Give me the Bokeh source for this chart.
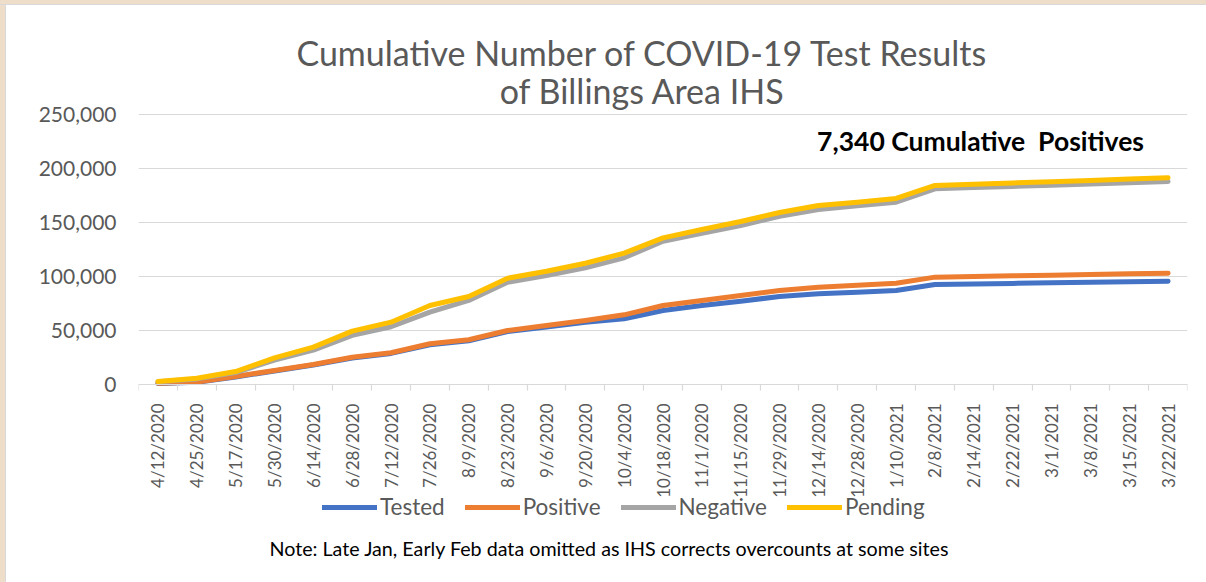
import math
from bokeh.plotting import figure
from bokeh.layouts import column, row
from bokeh.models import (Div, FixedTicker, Label, Legend, LegendItem, NumeralTickFormatter,
                          Range1d)
from bokeh.embed import file_html
from bokeh.resources import INLINE

dates = ["4/12/2020", "4/25/2020", "5/17/2020", "5/30/2020", "6/14/2020", "6/28/2020",
         "7/12/2020", "7/26/2020", "8/9/2020", "8/23/2020", "9/6/2020", "9/20/2020",
         "10/4/2020", "10/18/2020", "11/1/2020", "11/15/2020", "11/29/2020", "12/14/2020",
         "12/28/2020", "1/10/2021", "2/8/2021", "2/14/2021", "2/22/2021", "3/1/2021",
         "3/8/2021", "3/15/2021", "3/22/2021"]

tested = [1000, 2000, 7000, 12500, 18000, 24500, 28800, 36800, 40500, 49000, 53300, 57700,
          60800, 68500, 73100, 77100, 81500, 84000, 85500, 87000, 92600, 93100, 93600,
          94100, 94700, 95200, 95700]
positive = [1200, 2300, 7400, 13000, 18500, 25300, 29400, 37700, 41400, 50000, 54600, 59300,
            64500, 73100, 77800, 82400, 87000, 90100, 92000, 93800, 99400, 100000, 100600,
            101200, 101900, 102500, 103100]
negative = [2600, 5200, 11000, 22500, 31800, 45500, 53500, 67000, 77800, 94700, 101000, 108000,
            117300, 132700, 140100, 147200, 155800, 162000, 165400, 168800, 181200, 182300,
            183400, 184500, 185700, 186900, 188000]
pending = [2800, 5800, 12000, 24700, 34600, 49400, 57700, 73100, 81500, 98400, 104900, 112300,
           121600, 135800, 143500, 150900, 159300, 165700, 168800, 172300, 184300, 185500,
           186600, 187700, 189000, 190200, 191400]

series_names = ["Tested", "Positive", "Negative", "Pending"]
series_values = [tested, positive, negative, pending]
series_colors = ["#4472C4", "#ED7D31", "#A5A5A5", "#FFC000"]

y_ticks = [0, 50000, 100000, 150000, 200000, 250000]

title_1 = "Cumulative Number of COVID-19 Test Results"
title_2 = "of Billings Area IHS"
note_text = "7,340 Cumulative\u00a0 Positives"
footnote = "Note: Late Jan, Early Feb data omitted as IHS corrects overcounts at some sites"

FONT = "Lato"
GREY = "#595959"
FRAME_BEIGE = "#EEDDC9"
FRAME_LINE = "#D9D9D9"

# page pieces: thin beige frame at the top and left, then the chart
TOP_BAND, LEFT_BAND = 5, 6
W, H = 1206 - LEFT_BAND, 582 - TOP_BAND

# the frame spans the full height; value axis 0..250,000 occupies 270 px
PLOT_TOP, PLOT_BOTTOM = 114 - TOP_BAND, 384 - TOP_BAND
per_px = 250000 / (PLOT_BOTTOM - PLOT_TOP)
y_lo = -(H - PLOT_BOTTOM) * per_px
y_hi = 250000 + PLOT_TOP * per_px

xs = list(range(len(dates)))

p = figure(width=W, height=H, output_backend="svg", toolbar_location=None,
           x_range=Range1d(-0.5, len(dates) - 0.5), y_range=Range1d(y_lo, y_hi),
           min_border_left=138 - LEFT_BAND, min_border_right=19, min_border_top=0,
           min_border_bottom=0)
p.outline_line_color = None
p.background_fill_color = "white"
p.border_fill_color = "white"

# grid
p.xgrid.grid_line_color = None
p.ygrid.grid_line_color = "#D9D9D9"
p.ygrid.grid_line_width = 1.2

# y axis
p.yaxis.ticker = FixedTicker(ticks=y_ticks)
p.yaxis.formatter = NumeralTickFormatter(format="0,0")
p.yaxis.axis_line_color = None
p.yaxis.major_tick_line_color = None
p.yaxis.minor_tick_line_color = None
p.yaxis.major_label_standoff = 16
p.yaxis.major_label_text_font = FONT
p.yaxis.major_label_text_font_size = "21px"
p.yaxis.major_label_text_color = GREY

# x axis, pinned at value 0
p.xaxis.fixed_location = 0
p.xaxis.ticker = FixedTicker(ticks=xs, minor_ticks=[i - 0.5 for i in range(len(dates) + 1)])
p.xaxis.major_label_overrides = {i: d for i, d in enumerate(dates)}
p.xaxis.major_label_orientation = math.pi / 2
p.xaxis.axis_line_color = "#D9D9D9"
p.xaxis.axis_line_width = 1.2
p.xaxis.major_tick_line_color = None
p.xaxis.minor_tick_line_color = "#D9D9D9"
p.xaxis.minor_tick_line_width = 1.2
p.xaxis.minor_tick_in = 0
p.xaxis.minor_tick_out = 6
p.xaxis.major_label_standoff = 13
p.xaxis.major_label_text_font = FONT
p.xaxis.major_label_text_font_size = "17px"
p.xaxis.major_label_text_color = GREY

items = []
for name, vals, col in zip(series_names, series_values, series_colors):
    r = p.line(xs, vals, line_color=col, line_width=5, line_join="round", line_cap="round")
    items.append(LegendItem(label=name, renderers=[r]))

legend = Legend(items=items, orientation="horizontal", location=(184, 62),
                glyph_width=55, glyph_height=20, label_standoff=3, spacing=20,
                padding=0, margin=0, border_line_color=None, background_fill_alpha=0,
                label_text_font=FONT, label_text_color=GREY, label_text_font_size="22.5px")
p.add_layout(legend)

# text positions in px from the frame's bottom-left corner (bottom of the page)
p.add_layout(Label(x=504, y=582 - 52, x_units="screen", y_units="screen", text=title_1,
                   text_align="center", text_baseline="middle", text_font=FONT,
                   text_font_size="34px", text_color=GREY))
p.add_layout(Label(x=504, y=582 - 90, x_units="screen", y_units="screen", text=title_2,
                   text_align="center", text_baseline="middle", text_font=FONT,
                   text_font_size="34px", text_color=GREY))
p.add_layout(Label(x=842, y=582 - 140, x_units="screen", y_units="screen", text=note_text,
                   text_align="center", text_baseline="middle", text_font=FONT,
                   text_font_size="26.5px", text_font_style="bold", text_color="black"))
p.add_layout(Label(x=471, y=582 - 548, x_units="screen", y_units="screen", text=footnote,
                   text_align="center", text_baseline="middle", text_font=FONT,
                   text_font_size="19.7px", text_color="black"))

top_band = Div(width=1206, height=TOP_BAND, margin=0,
               styles={"background": f"linear-gradient(to bottom, {FRAME_BEIGE} 4px, {FRAME_LINE} 4px)"})
left_band = Div(width=LEFT_BAND, height=H, margin=0,
                styles={"background": f"linear-gradient(to right, {FRAME_BEIGE} 5px, {FRAME_LINE} 5px)"})
page = column(top_band, row(left_band, p, spacing=0), spacing=0)

open("out.html", "w").write(file_html(page, INLINE))
